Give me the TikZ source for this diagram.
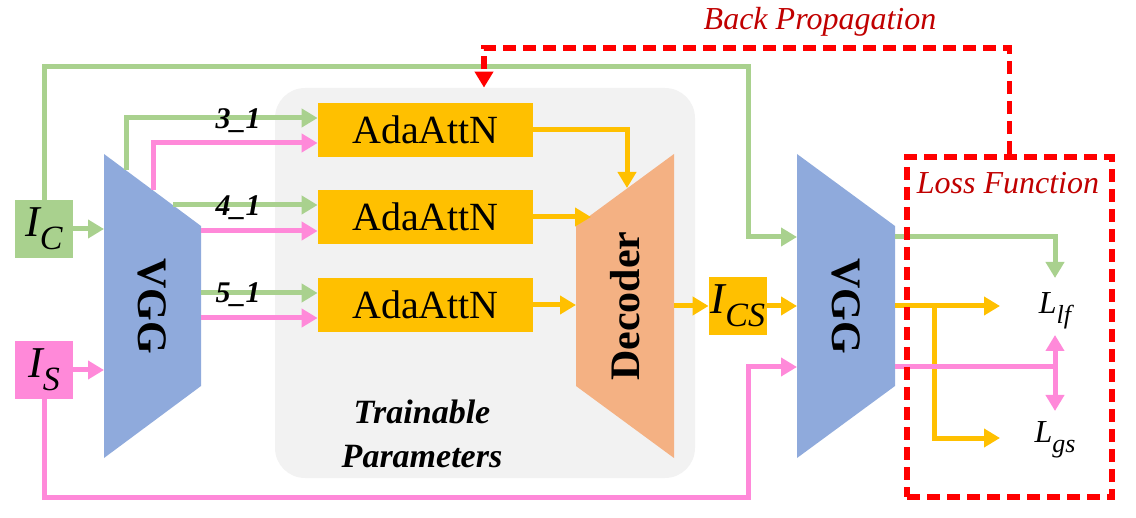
\documentclass[tikz,border=0pt]{standalone}
\usepackage{fontspec}
\setmainfont{Liberation Serif}
\usetikzlibrary{positioning, arrows.meta}
\definecolor{agreen}{HTML}{A9D18E}
\definecolor{apink}{HTML}{FF89D9}
\definecolor{ablue}{HTML}{8FAADC}
\definecolor{aorange}{HTML}{F4B183}
\definecolor{ayellow}{HTML}{FFC000}
\definecolor{agray}{HTML}{F2F2F2}
\definecolor{ared}{HTML}{FF0000}
\definecolor{adarkred}{HTML}{C00000}
\newcommand{\symsub}[3]{{\itshape #1\raisebox{-0.3em}{\fontsize{#3}{#3}\selectfont #2}}}

\begin{document}
\begin{tikzpicture}[
        x=0.5pt, y=-0.5pt,
        every node/.style={inner sep=0pt},
        imgbox/.style={
          minimum width=29pt, minimum height=29pt,
          font=\fontsize{22}{24}\selectfont,
        },
        attbox/.style={
          fill=ayellow, minimum width=107.5pt, minimum height=27pt,
          font=\fontsize{20}{24}\selectfont,
        },
        feat/.style={
          line width=2.5pt, -{Triangle[length=8pt,width=9pt]},
        },
        layer/.style={font=\fontsize{15}{18}\selectfont\bfseries\itshape},
        nettxt/.style={font=\fontsize{21}{24}\selectfont\bfseries},
        redtxt/.style={text=adarkred, font=\fontsize{16}{19}\selectfont\itshape},
        bp/.style={
          draw=ared, line width=2.8pt, dash pattern=on 6.5pt off 3.5pt,
        },
        losstxt/.style={font=\fontsize{16}{19}\selectfont},
      ]
      \useasboundingbox (0,0) rectangle (1136,518);

      % trainable part
      \node[fill=agray, rounded corners=15pt, minimum width=210pt,
        minimum height=195pt] (train) at (485,283) {};
      \node[font=\fontsize{17}{22}\selectfont\bfseries\itshape, align=center]
        (traintxt) at (422,434) {Trainable\\Parameters};

      % encoders and decoder
      \coordinate (va-tl) at (104,154);
      \coordinate (va-tr) at (201,226);
      \coordinate (va-br) at (201,386);
      \coordinate (va-bl) at (104,458);
      \fill[ablue] (va-tl) -- (va-tr) -- (va-br) -- (va-bl) -- cycle;
      \node[nettxt, rotate=-90] (vgga) at (152,306) {VGG};

      \coordinate (dec-tr) at (674,154);
      \coordinate (dec-br) at (674,458);
      \coordinate (dec-bl) at (576,386);
      \coordinate (dec-tl) at (576,226);
      \fill[aorange] (dec-tl) -- (dec-tr) -- (dec-br) -- (dec-bl) -- cycle;
      \node[nettxt, rotate=90] (dec) at (625,306) {Decoder};

      \coordinate (vb-tl) at (797,154);
      \coordinate (vb-tr) at (895,226);
      \coordinate (vb-br) at (895,386);
      \coordinate (vb-bl) at (797,458);
      \fill[ablue] (vb-tl) -- (vb-tr) -- (vb-br) -- (vb-bl) -- cycle;
      \node[nettxt, rotate=-90] (vggb) at (846,306) {VGG};

      % images
      \node[imgbox, fill=agreen] (ic) at (44,229) {\symsub{I}{C}{17}};
      \node[imgbox, fill=apink] (is) at (44,370) {\symsub{I}{S}{17}};
      \node[imgbox, fill=ayellow] (ics) at (738,306) {\symsub{I}{CS}{17}};

      \node[attbox] (ada1) at (425.5,130) {AdaAttN};
      \node[attbox] (ada2) at (425.5,217) {AdaAttN};
      \node[attbox] (ada3) at (425.5,305) {AdaAttN};

      % helper points
      \coordinate (va-g3) at (126,170);
      \coordinate (va-p3) at (153,190);
      \coordinate (va-g4) at (173,205);
      \coordinate (va-p4) at (201,231);
      \coordinate (va-g5) at (201,293);
      \coordinate (va-p5) at (201,318);
      \coordinate (gtop) at (748,67);
      \coordinate (pbot) at (748,497);
      \coordinate (vb-in1) at (797,237);
      \coordinate (vb-in3) at (797,367);
      \coordinate (dec-in1) at (627,188);
      \coordinate (dec-in2) at (591,217);
      \coordinate (vb-o1) at (895,237);
      \coordinate (vb-o2) at (895,306);
      \coordinate (vb-o3) at (895,367);
      \coordinate (lf-top) at (1055,278);
      \coordinate (lf-in) at (1000,306);
      \coordinate (gs-in) at (1000,438);
      \coordinate (fork) at (934,306);
      \coordinate (pk-up) at (1055,335);
      \coordinate (pk-dn) at (1055,411);
      \coordinate (pk-mid) at (1055,367);
      \coordinate (bpcorner) at (484,48);

      % content and style features
      \draw[feat, agreen] (ic.east) -- (ic.east -| va-tl);
      \draw[feat, apink] (is.east) -- (is.east -| va-tl);
      \draw[feat, agreen] (ic.north) |- (gtop) |- (vb-in1);
      \draw[feat, apink] (is.south) |- (pbot) |- (vb-in3);

      \draw[feat, agreen] (va-g3) |- ([yshift=6pt]ada1.west);
      \draw[feat, apink] (va-p3) |- ([yshift=-6.5pt]ada1.west);
      \draw[feat, agreen] (va-g4) -- ([yshift=6pt]ada2.west);
      \draw[feat, apink] (va-p4) -- ([yshift=-7pt]ada2.west);
      \draw[feat, agreen] (va-g5) -- ([yshift=6pt]ada3.west);
      \draw[feat, apink] (va-p5) -- ([yshift=-6.5pt]ada3.west);

      \node[layer] (l3) at (238,121) {3\_1};
      \node[layer] (l4) at (238,208) {4\_1};
      \node[layer] (l5) at (238,295) {5\_1};

      % decoding
      \draw[feat, ayellow] (ada1.east) -| (dec-in1);
      \draw[feat, ayellow] (ada2.east) -- (dec-in2);
      \draw[feat, ayellow] (ada3.east) -- (ada3.east -| dec-tl);
      \draw[feat, ayellow] (ics.west -| dec-tr) -- (ics.west);
      \draw[feat, ayellow] (ics.east) -- (ics.east -| vb-tl);

      % losses
      \draw[feat, agreen] (vb-o1) -| (lf-top);
      \draw[feat, ayellow] (vb-o2) -- (lf-in);
      \draw[feat, ayellow] (fork) |- (gs-in);
      \draw[line width=2.5pt, apink] (vb-o3) -- (pk-mid);
      \draw[line width=2.5pt, apink,
        {Triangle[length=8pt,width=9pt]}-{Triangle[length=8pt,width=9pt]}]
        (pk-up) -- (pk-dn);
      \node[losstxt] (llf) at (1055,311) {\symsub{L}{lf}{13}};
      \node[losstxt] (lgs) at (1055,440) {\symsub{L}{gs}{13}};

      \node[bp, minimum width=102.5pt, minimum height=170pt] (loss)
        at (1009.5,327) {};
      \node[redtxt] (losslbl) at (1008,183) {Loss Function};

      % back propagation
      \draw[bp, -{Triangle[length=8pt,width=9pt]}] (loss.north) |- (bpcorner)
        -- (train.north -| bpcorner);
      \node[redtxt] (bplbl) at (820,22) {Back Propagation};
    \end{tikzpicture}
\end{document}
